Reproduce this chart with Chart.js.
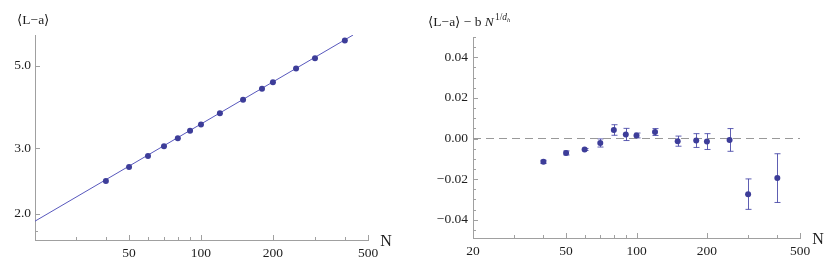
<!DOCTYPE html>
<html>
<head>
<meta charset="utf-8">
<script src="https://cdn.jsdelivr.net/npm/chart.js@4.4.1/dist/chart.umd.min.js"></script>
<style>
  html, body { margin: 0; padding: 0; background: #fff; }
  #wrap { position: relative; width: 831px; height: 270px; }
  canvas { position: absolute; top: 0; }
  #fitChart { left: 0; }
  #residChart { left: 415px; }
</style>
</head>
<body>
<div id="wrap">
  <canvas id="fitChart" width="415" height="270"></canvas>
  <canvas id="residChart" width="416" height="270"></canvas>
</div>
<script>
// measured system sizes and mean length
const sizes = [40, 50, 60, 70, 80, 90, 100, 120, 150, 180, 200, 250, 300, 400];
const meanLength = [2.45, 2.67, 2.86, 3.035, 3.19, 3.34, 3.475, 3.72, 4.05, 4.33, 4.51, 4.91, 5.23, 5.84];

// fitted power law, end points of the straight line on the log-log plot
const fitN = [20.2, 433];
const fitLength = [1.91, 6.04];

// residuals after subtracting b N^(1/d_h)
const residual = [-0.0115, -0.0071, -0.0054, -0.0022, 0.0042, 0.0020, 0.0015, 0.0032, -0.0013, -0.0010, -0.0015, -0.0007, -0.0274, -0.0195];
const residualErr = [0.0008, 0.0010, 0.0005, 0.0020, 0.0026, 0.0030, 0.0012, 0.0017, 0.0025, 0.0034, 0.0039, 0.0056, 0.0075, 0.0120];
const zeroLineN = [20, 500];
const zeroLineVal = [0, 0];

// tick values
const xMajor = [20, 50, 100, 200, 500];
const xMinor = [30, 40, 60, 70, 80, 90, 300, 400];
const fitYMajor = [2, 3, 5];
const fitYMinor = [1.8];
const residYMajor = [-0.04, -0.02, 0, 0.02, 0.04];
const residYMinor = [-0.045, -0.035, -0.03, -0.025, -0.015, -0.01, -0.005, 0.005, 0.01, 0.015, 0.025, 0.03, 0.035, 0.045, 0.05];

const SERIF = '"Liberation Serif", "DejaVu Serif", serif';
const DOT = '#3d3d99';
const AXIS = '#a0a0a0';
const TICK_SIZE = 13.5;

Chart.defaults.font.family = SERIF;
Chart.defaults.color = '#1e1e1e';

const toPoints = (xs, ys) => xs.map((x, i) => ({ x: x, y: ys[i] }));

// Mathematica-style ticks, drawn inward from the axes
const innerTicks = {
    id: 'innerTicks',
    afterDraw(chart, args, opts) {
        const { ctx, chartArea, scales: { x, y } } = chart;
        ctx.save();
        ctx.strokeStyle = AXIS;
        ctx.lineWidth = 1;
        ctx.beginPath();
        const xt = (vals, len) => vals.forEach(v => {
            if (v < x.min || v > x.max) return;
            const px = Math.round(x.getPixelForValue(v)) + 0.5;
            ctx.moveTo(px, chartArea.bottom);
            ctx.lineTo(px, chartArea.bottom - len);
        });
        const yt = (vals, len) => vals.forEach(v => {
            if (v < y.min || v > y.max) return;
            const py = Math.round(y.getPixelForValue(v)) + 0.5;
            ctx.moveTo(chartArea.left, py);
            ctx.lineTo(chartArea.left + len, py);
        });
        xt(opts.xMajor, 5);
        xt(opts.xMinor, 3);
        yt(opts.yMajor, 5);
        yt(opts.yMinor, 3);
        ctx.stroke();
        ctx.restore();
    }
};

// axis captions
const captions = {
    id: 'captions',
    afterDraw(chart, args, opts) {
        const ctx = chart.ctx;
        ctx.save();
        ctx.fillStyle = '#1e1e1e';
        ctx.textBaseline = 'alphabetic';
        ctx.font = '13.5px ' + SERIF;
        let x = opts.titleX;
        const base = opts.titleY;
        ctx.fillText(opts.title, x, base);
        x += ctx.measureText(opts.title).width;
        if (opts.power) {
            ctx.font = 'italic 13.5px ' + SERIF;
            ctx.fillText('N', x, base);
            x += ctx.measureText('N').width + 1;
            ctx.font = '9.5px ' + SERIF;
            ctx.fillText('1/', x, base - 6);
            x += ctx.measureText('1/').width;
            ctx.font = 'italic 9.5px ' + SERIF;
            ctx.fillText('d', x, base - 6);
            x += ctx.measureText('d').width;
            ctx.font = 'italic 6.5px ' + SERIF;
            ctx.fillText('h', x, base - 4);
        }
        ctx.font = '16px ' + SERIF;
        ctx.textAlign = 'center';
        ctx.textBaseline = 'middle';
        ctx.fillText('N', opts.nX, opts.nY);
        ctx.restore();
    }
};

// vertical error bars with small caps
const errorBars = {
    id: 'errorBars',
    beforeDatasetsDraw(chart) {
        const { ctx, scales: { x, y } } = chart;
        ctx.save();
        ctx.strokeStyle = 'rgba(66,66,165,0.85)';
        ctx.lineWidth = 1;
        ctx.beginPath();
        sizes.forEach((n, i) => {
            const px = Math.round(x.getPixelForValue(n)) + 0.5;
            const top = y.getPixelForValue(residual[i] + residualErr[i]);
            const bot = y.getPixelForValue(residual[i] - residualErr[i]);
            ctx.moveTo(px, top);
            ctx.lineTo(px, bot);
            ctx.moveTo(px - 3, top);
            ctx.lineTo(px + 3, top);
            ctx.moveTo(px - 3, bot);
            ctx.lineTo(px + 3, bot);
        });
        ctx.stroke();
        ctx.restore();
    }
};

function logX(min, height) {
    return {
        type: 'logarithmic',
        min: min,
        max: 500,
        afterBuildTicks: s => { s.ticks = xMajor.filter(v => v >= s.min && v <= s.max).map(v => ({ value: v })); },
        afterFit: s => { s.height = height; },
        ticks: { callback: v => String(v), font: { size: TICK_SIZE }, padding: 5, maxRotation: 0, autoSkip: false },
        grid: { display: false, drawTicks: false },
        border: { display: true, color: AXIS, width: 1 }
    };
}

new Chart(document.getElementById('fitChart'), {
    type: 'scatter',
    data: {
        datasets: [
            {
                data: toPoints(sizes, meanLength),
                backgroundColor: DOT,
                borderWidth: 0,
                pointRadius: 3
            },
            {
                type: 'line',
                data: toPoints(fitN, fitLength),
                borderColor: '#5858bd',
                borderWidth: 1,
                pointRadius: 0,
                fill: false
            }
        ]
    },
    options: {
        responsive: false,
        animation: false,
        layout: { padding: { top: 35, right: 47, left: 0, bottom: 0 } },
        plugins: {
            legend: { display: false },
            tooltip: { enabled: false },
            innerTicks: { xMajor: xMajor, xMinor: xMinor, yMajor: fitYMajor, yMinor: fitYMinor },
            captions: { title: '⟨L−a⟩', titleX: 17, titleY: 24, power: false, nX: 386, nY: 242 }
        },
        scales: {
            x: logX(20.2, 30),
            y: {
                type: 'logarithmic',
                min: 1.72,
                max: 6.04,
                afterBuildTicks: s => { s.ticks = fitYMajor.map(v => ({ value: v })); },
                afterFit: s => { s.width = 35; },
                ticks: { callback: v => Number(v).toFixed(1), font: { size: TICK_SIZE }, padding: 4 },
                grid: { display: false, drawTicks: false },
                border: { display: true, color: AXIS, width: 1 }
            }
        }
    },
    plugins: [innerTicks, captions]
});

new Chart(document.getElementById('residChart'), {
    type: 'scatter',
    data: {
        datasets: [
            {
                data: toPoints(sizes, residual),
                backgroundColor: DOT,
                borderWidth: 0,
                pointRadius: 3
            },
            {
                type: 'line',
                data: toPoints(zeroLineN, zeroLineVal),
                borderColor: '#999',
                borderWidth: 1,
                borderDash: [8, 5],
                pointRadius: 0,
                fill: false
            }
        ]
    },
    options: {
        responsive: false,
        animation: false,
        layout: { padding: { top: 37, right: 31, left: 0, bottom: 0 } },
        plugins: {
            legend: { display: false },
            tooltip: { enabled: false },
            innerTicks: { xMajor: xMajor, xMinor: xMinor, yMajor: residYMajor, yMinor: residYMinor },
            captions: { title: '⟨L−a⟩ − b ', titleX: 13, titleY: 26, power: true, nX: 403, nY: 240 }
        },
        scales: {
            x: logX(20, 32),
            y: {
                min: -0.049,
                max: 0.05,
                afterBuildTicks: s => { s.ticks = residYMajor.map(v => ({ value: v })); },
                afterFit: s => { s.width = 58; },
                ticks: {
                    callback: v => (v < -1e-9 ? '−' : '') + Math.abs(v).toFixed(2),
                    font: { size: TICK_SIZE },
                    padding: 5
                },
                grid: { display: false, drawTicks: false },
                border: { display: true, color: AXIS, width: 1 }
            }
        }
    },
    plugins: [innerTicks, captions, errorBars]
});
</script>
</body>
</html>
